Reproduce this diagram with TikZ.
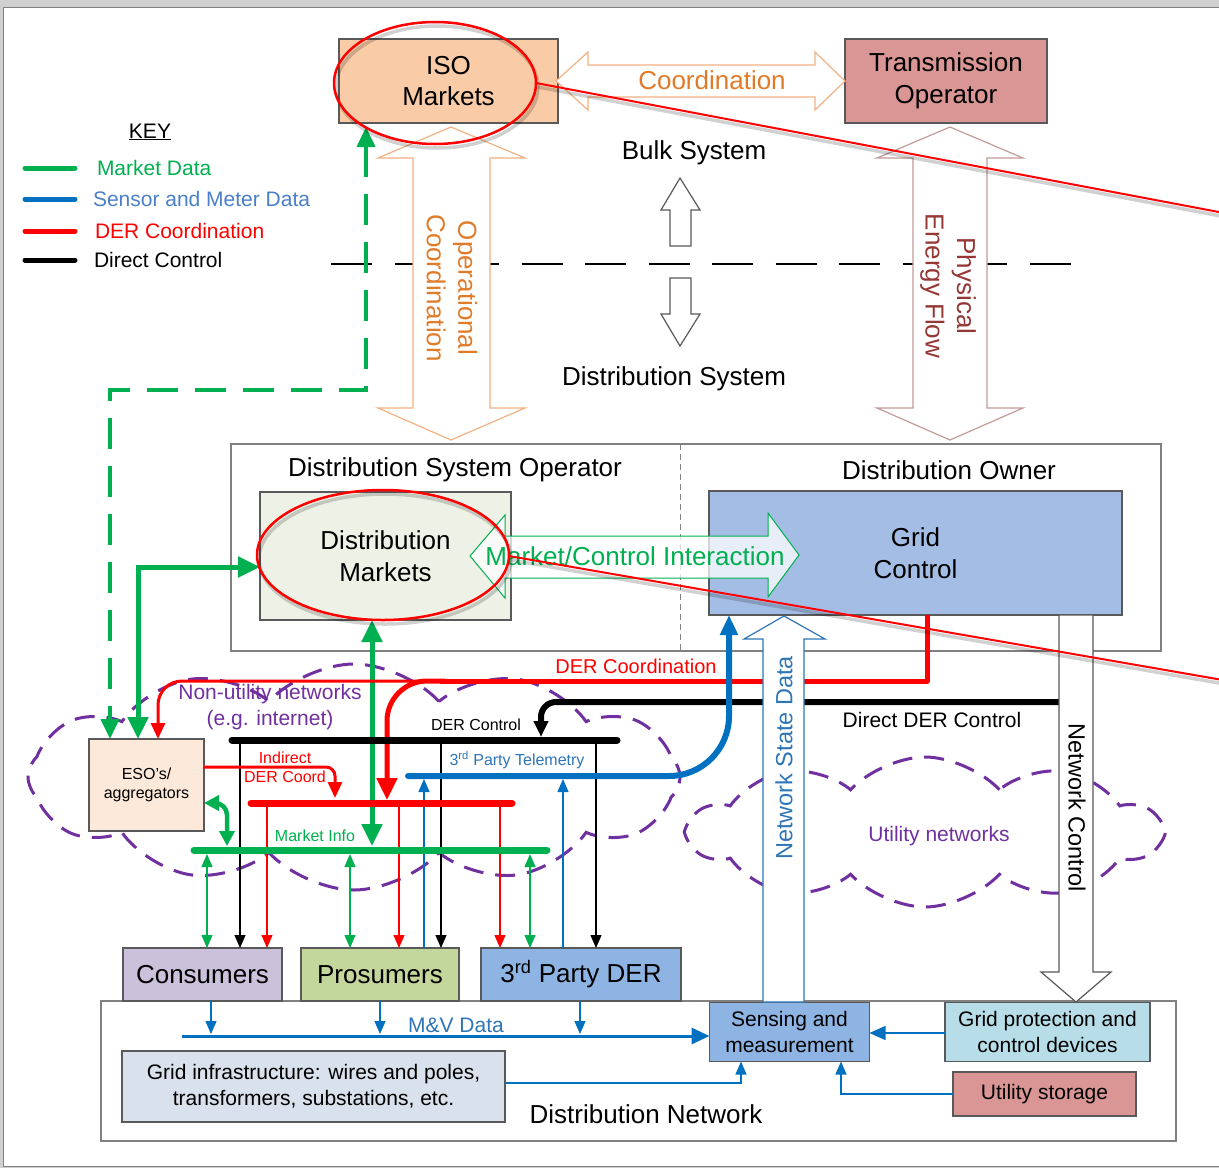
\documentclass[tikz,border=0pt]{standalone}
\usepackage{fontspec}
\setmainfont{Liberation Sans}
\usetikzlibrary{arrows.meta,shapes.symbols}

\definecolor{mgreen}{HTML}{00B050}
\definecolor{mblue}{HTML}{0070C0}
\definecolor{tblue}{HTML}{2E75B6}
\definecolor{kblue}{HTML}{4A7FC9}
\definecolor{mred}{HTML}{FF0000}
\definecolor{mpurple}{HTML}{7030A0}
\definecolor{torange}{HTML}{E07B2A}
\definecolor{lorange}{HTML}{F4B183}
\definecolor{tbrown}{HTML}{953735}
\definecolor{lbrown}{HTML}{C39B99}
\definecolor{boxgrey}{HTML}{595959}
\definecolor{isofill}{HTML}{F9CBA6}
\definecolor{tsofill}{HTML}{D99694}
\definecolor{dmfill}{HTML}{EEF2E6}
\definecolor{gcfill}{HTML}{A4BDE4}
\definecolor{esofill}{HTML}{FCE9DA}
\definecolor{consfill}{HTML}{CCC1DA}
\definecolor{prosfill}{HTML}{C3D69B}
\definecolor{derfill}{HTML}{8EB4E3}
\definecolor{gpfill}{HTML}{B7DEE8}
\definecolor{infill}{HTML}{D9E1EC}
\definecolor{pagegrey}{HTML}{D0D0D0}

\newcommand\fbig{\fontsize{26}{31.5}\selectfont}
\newcommand\fvert{\fontsize{23.5}{28}\selectfont}
\newcommand\fmid{\fontsize{21}{26}\selectfont}
\newcommand\flab{\fontsize{20}{24}\selectfont}
\newcommand\fsml{\fontsize{16}{19}\selectfont}

\begin{document}
\begin{tikzpicture}[x=1pt,y=-1pt,
  every node/.style={inner sep=0pt,outer sep=0pt},
  box/.style={draw=boxgrey,line width=1.2pt,align=center},
  frame/.style={draw=gray,line width=1.2pt,fill=white},
  blk/.style={line width=1.2pt,fill=white,line join=miter},
  bus/.style={line width=7pt,line cap=round},
  thinln/.style={line width=1.2pt},
  keyline/.style={line width=5pt,line cap=round},
  sarr/.style={-{Triangle[length=13pt,width=11pt]}},
  sdarr/.style={{Triangle[length=13pt,width=11pt]}-{Triangle[length=13pt,width=11pt]}},
  marr/.style={-{Triangle[length=16pt,width=14pt]}},
  barr/.style={-{Triangle[length=22pt,width=20pt]}},
  bdarr/.style={{Triangle[length=22pt,width=20pt]}-{Triangle[length=22pt,width=20pt]}},
  netcloud/.style={cloud,draw=mpurple,line width=3pt,dash pattern=on 20pt off 12pt}
]
\useasboundingbox (0,0) rectangle (1219,1168);
\clip (0,0) rectangle (1219,1168);

% page
\fill[pagegrey] (0,0) rectangle (1219,1168);
\draw[draw=gray,line width=1pt,fill=white] (3,7) rectangle (1240,1166);

% network clouds
\node[netcloud,cloud puffs=12,cloud puff arc=95,minimum width=652pt,minimum height=226pt] (nonutil) at (354,777) {};
\node[netcloud,cloud puffs=10,cloud puff arc=95,minimum width=470pt,minimum height=150pt] (util) at (925,832) {};

% key
\node[font=\fmid] (key) at (150,132) {\underline{KEY}};
\draw[keyline,mgreen] (25,168) -- (75,168);
\draw[keyline,mblue] (25,199) -- (75,199);
\draw[keyline,mred] (25,231) -- (75,231);
\draw[keyline,black] (25,260) -- (75,260);
\node[font=\fmid,text=mgreen,anchor=west] (k1) at (97,168) {Market Data};
\node[font=\fmid,text=kblue,anchor=west] (k2) at (93,199) {Sensor and Meter Data};
\node[font=\fmid,text=mred,anchor=west] (k3) at (95,231) {DER Coordination};
\node[font=\fmid,anchor=west] (k4) at (94,260) {Direct Control};

% bulk / distribution boundary
\draw[line width=2.5pt,dash pattern=on 41pt off 22.5pt] (331,264) -- (1077,264);
\node[font=\fbig] (bulk) at (694,153) {Bulk System};
\node[font=\fbig] (dsys) at (674,379) {Distribution System};
\draw[blk,draw=boxgrey] (680,178) -- (700,210) -- (691,210) -- (691,246) -- (670,246) -- (670,210) -- (661,210) -- cycle;
\draw[blk,draw=boxgrey] (670,278) -- (691,278) -- (691,314) -- (700,314) -- (680,346) -- (661,314) -- (670,314) -- cycle;

% bulk system boxes
\node[box,fill=isofill,minimum width=219pt,minimum height=84pt,font=\fbig] (iso) at (448.5,81) {ISO\\Markets};
\node[box,fill=tsofill,minimum width=202pt,minimum height=84pt,font=\fbig] (tso) at (946,81) {Transmission\\Operator};

% block arrows between bulk and distribution
\draw[blk,draw=lorange] (556,81) -- (588,52) -- (588,65) -- (815,65) -- (815,52) -- (845,81) -- (815,110) -- (815,97) -- (588,97) -- (588,110) -- cycle;
\node[font=\fbig,text=torange] (coord) at (712,80) {Coordination};
\draw[blk,draw=lorange] (451,127) -- (525,158) -- (490,158) -- (490,408) -- (525,408) -- (451,440) -- (378,408) -- (413,408) -- (413,158) -- (378,158) -- cycle;
\node[font=\fbig,text=torange,rotate=-90,align=center] (opco) at (452,288) {Operational\\Coordination};
\draw[blk,draw=lbrown] (950,127) -- (1023,158) -- (987,158) -- (987,408) -- (1023,408) -- (950,440) -- (877,408) -- (913,408) -- (913,158) -- (877,158) -- cycle;
\node[font=\fbig,text=tbrown,rotate=-90,align=center] (pef) at (948,286) {Physical\\Energy Flow};

% distribution operator / owner
\node[frame,minimum width=930pt,minimum height=207pt] (dso) at (696,547.5) {};
\draw[gray,line width=1pt,dash pattern=on 6pt off 4pt] (680,0 |- dso.north) -- (680,0 |- dso.south);
\node[font=\fbig] (dsot) at (455,470) {Distribution System Operator};
\node[font=\fbig] (dot) at (949,470) {Distribution Owner};
\node[box,fill=dmfill,minimum width=251pt,minimum height=128pt,font=\fbig] (dm) at (385.5,556) {Distribution\\Markets};
\node[box,fill=gcfill,minimum width=413pt,minimum height=124pt,font=\fbig] (gc) at (915.5,553) {Grid\\Control};

% distribution network
\node[frame,minimum width=1075pt,minimum height=140pt] (dn) at (638.5,1071) {};
\node[font=\fbig] (dnt) at (646,1114) {Distribution Network};
\node[box,fill=consfill,minimum width=159pt,minimum height=53pt,font=\fbig] (cons) at (202.5,974.5) {Consumers};
\node[box,fill=prosfill,minimum width=158pt,minimum height=53pt,font=\fbig] (pros) at (380,974.5) {Prosumers};
\node[box,fill=derfill,minimum width=200pt,minimum height=53pt,font=\fbig] (tpd) at (581,974.5) {3\textsuperscript{rd} Party DER};
\node[box,fill=derfill,minimum width=160pt,minimum height=59pt,font=\fmid] (sens) at (789.5,1032) {Sensing and\\measurement};
\node[box,fill=gpfill,minimum width=205pt,minimum height=59pt,font=\fmid] (gpd) at (1047.5,1032) {Grid protection and\\control devices};
\node[box,fill=tsofill,minimum width=183pt,minimum height=44pt,font=\fmid] (ust) at (1044.5,1094) {Utility storage};
\node[box,fill=infill,minimum width=383pt,minimum height=71pt,font=\fmid] (ginf) at (313.5,1086.5) {Grid infrastructure: wires and poles,\\transformers, substations, etc.};

% aggregators
\node[box,fill=esofill,minimum width=115pt,minimum height=92pt,font=\fsml] (eso) at (146.5,785) {ESO’s/\\aggregators};

% bus coordinates
\coordinate (derL) at (232,740); \coordinate (derR) at (617,740);
\coordinate (redL) at (251,803); \coordinate (redR) at (512,803);
\coordinate (grnL) at (194,850); \coordinate (grnR) at (547,850);
\coordinate (bluL) at (408,776);

% thin links between buses and customer classes
\draw[thinln,mgreen,sdarr] (207,854) -- (207,0 |- cons.north);
\draw[thinln,black,sarr] (240,0 |- derL) -- (240,0 |- cons.north);
\draw[thinln,mred,sarr] (267,0 |- redL) -- (267,0 |- cons.north);
\draw[thinln,mgreen,sdarr] (350,854) -- (350,0 |- pros.north);
\draw[thinln,mred,sarr] (399,0 |- redL) -- (399,0 |- pros.north);
\draw[thinln,mblue,sarr] (424,0 |- pros.north) -- (424,779);
\draw[thinln,black,sarr] (441,0 |- derL) -- (441,0 |- pros.north);
\draw[thinln,mred,sarr] (500,0 |- redL) -- (500,0 |- tpd.north);
\draw[thinln,mgreen,sdarr] (530,854) -- (530,0 |- tpd.north);
\draw[thinln,mblue,sarr] (563,0 |- tpd.north) -- (563,779);
\draw[thinln,black,sarr] (596,0 |- derL) -- (596,0 |- tpd.north);

% market data links
\draw[mgreen,line width=4pt,dash pattern=on 31pt off 17pt,{Triangle[length=20pt,width=18pt]}-{Triangle[length=20pt,width=18pt]}]
  (366,0 |- iso.south) ++(0,4) -- (366,390) -- (110,390) -- (110,0 |- eso.north);
\draw[mgreen,line width=5pt,bdarr] (138,0 |- eso.north) -- (138,567) -- (dm.west |- 0,567);
\draw[mgreen,line width=5pt,bdarr] (372,0 |- dm.south) -- (372,846);
\draw[mgreen,line width=4.5pt,rounded corners=12pt,{Triangle[length=15pt,width=15pt]}-{Triangle[length=15pt,width=15pt]}]
  (eso.east |- 0,803) -- (227,803) -- (227,846);

% DER coordination links
\draw[mred,line width=5pt,line join=round] (927,0 |- gc.south) -- (927,681) -- (440,681);
\draw[mred,line width=5pt,rounded corners=40pt,barr] (445,681) -- (387,681) -- (387,800);
\draw[mred,line width=3pt,rounded corners=24pt,marr] (440,681) -- (158,681) -- (158,0 |- eso.north);
\draw[mred,line width=3pt,rounded corners=9pt,marr] (eso.east |- 0,767) -- (335,767) -- (335,798);

% direct DER control
\draw[black,line width=6pt,rounded corners=15pt,marr] (1059,702) -- (541,702) -- (541,737);

% third party telemetry
\draw[mblue,line width=6pt,line cap=round,rounded corners=60pt,-{Triangle[length=20pt,width=17pt]}]
  (bluL) -- (729,776) -- (729,0 |- gc.south);

% buses
\draw[bus,black] (derL) -- (derR);
\draw[bus,mred] (redL) -- (redR);
\draw[bus,mgreen] (grnL) -- (grnR);

% bus labels
\node[font=\flab,text=mred] (dcl) at (636,666) {DER Coordination};
\node[font=\fmid,text=mpurple,align=center] (nul) at (270,707) {Non-utility networks\\(e.g. internet)};
\node[font=\fsml] (derc) at (476,725) {DER Control};
\node[font=\fmid] (ddc) at (932,720) {Direct DER Control};
\node[font=\fsml,text=mred,align=center] (idc) at (285,767) {Indirect\\DER Coord};
\node[font=\fsml,text=tblue] (tpt) at (517,760) {3\textsuperscript{rd} Party Telemetry};
\node[font=\fsml,text=mgreen] (mi) at (315,836) {Market Info};
\node[font=\fmid,text=mpurple] (utl) at (939,836) {Utility networks};

% network state data and network control
\draw[blk,draw=tblue] (784,616) -- (825,639) -- (804,639) -- (804,1002) -- (763,1002) -- (763,639) -- (744,639) -- cycle;
\node[font=\fvert,text=tblue,rotate=90] (nsd) at (784,758) {Network State Data};
\draw[blk,draw=boxgrey] (1059,615) -- (1093,615) -- (1093,972) -- (1111,972) -- (1076,1002) -- (1041,972) -- (1059,972) -- cycle;
\node[font=\fvert,rotate=-90] (nct) at (1077,808) {Network Control};

% measurement and verification data
\draw[mblue,line width=3pt,-{Triangle[length=18pt,width=16pt]}] (182,1036) -- (sens.west |- 0,1036);
\draw[mblue,thinln,sarr] (211,0 |- cons.south) -- (211,1034);
\draw[mblue,thinln,sarr] (380,0 |- pros.south) -- (380,1034);
\draw[mblue,thinln,sarr] (580,0 |- tpd.south) -- (580,1034);
\node[font=\fmid,text=tblue] (mv) at (456,1025) {M\&V Data};
\draw[mblue,thinln,marr] (gpd.west |- 0,1033) -- (sens.east |- 0,1033);
\draw[mblue,thinln,sarr] (ust.west) -- (841,1094) -- (841,0 |- sens.south);
\draw[mblue,thinln,sarr] (ginf.east |- 0,1083) -- (741,1083) -- (741,0 |- sens.south);

% market / control interaction
\draw[line width=1pt,draw=mgreen,fill=white,fill opacity=0.75] (470,556) -- (505,515) -- (505,536) -- (768,536) -- (768,513) -- (799,555) -- (768,597) -- (768,578) -- (505,578) -- (505,598) -- cycle;
\node[font=\fbig,text=mgreen] (mci) at (635,556) {Market/Control Interaction};

% highlight marks
\begin{scope}[black,opacity=0.18,line width=3.5pt,shift={(2,4)}]
  \draw (435,83) ellipse [x radius=101,y radius=61];
  \draw (383,555) ellipse [x radius=126,y radius=65];
  \draw (536,83) -- (1240,216);
  \draw (509,556) -- (1240,683);
\end{scope}
\draw[mred,line width=2.5pt] (435,83) ellipse [x radius=101,y radius=61];
\draw[mred,line width=2.5pt] (383,555) ellipse [x radius=126,y radius=65];
\draw[mred,line width=2pt] (536,83) -- (1240,216);
\draw[mred,line width=2pt] (509,556) -- (1240,683);
\end{tikzpicture}
\end{document}
